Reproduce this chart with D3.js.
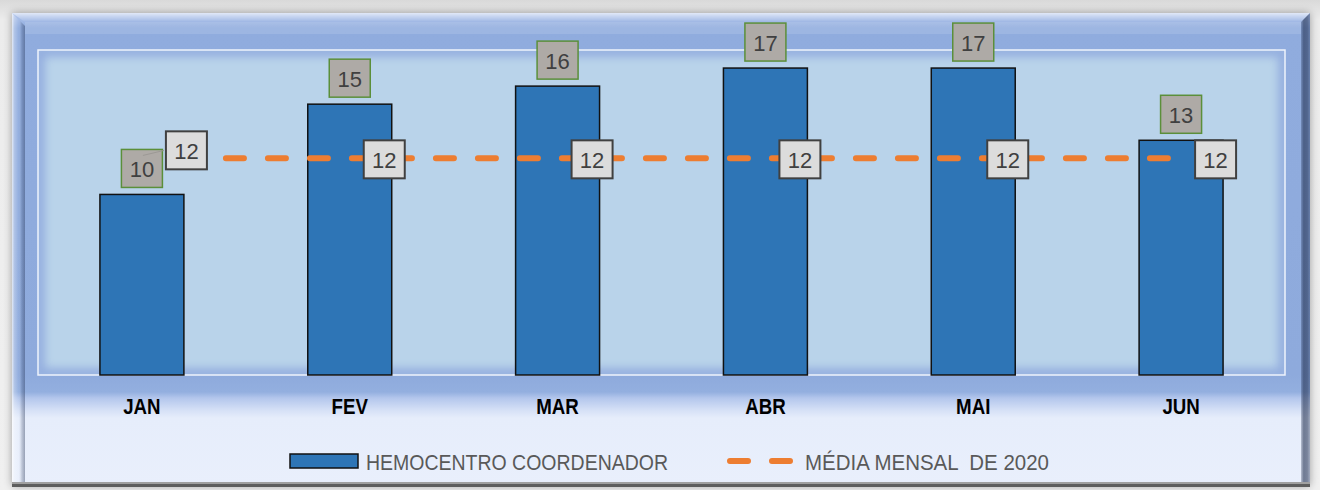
<!DOCTYPE html>
<html><head><meta charset="utf-8">
<script src="https://cdn.jsdelivr.net/npm/d3@7"></script>
<style>body{margin:0;background:#efefef;} svg{display:block}</style>
</head><body><svg id="c" width="1320" height="490"></svg>
<script>
// ---- data ----
const months = ["JAN","FEV","MAR","ABR","MAI","JUN"];
const hemocentro = [10,15,16,17,17,13];
const mediaMensal = [12,12,12,12,12,12];
const seriesNames = ["HEMOCENTRO COORDENADOR","MÉDIA MENSAL  DE 2020"];
const yDomain = [0,18];

// ---- layout ----
const W = 1320, H = 490;
const frame = {x0:12, y0:13, x1:1310, y1:486};
const plot = {x0:38, y0:50, x1:1285, y1:375};
const FONT = "'Liberation Sans Narrow','Liberation Sans',Arial,sans-serif";

const svg = d3.select("#c");
const defs = svg.append("defs");

const x = d3.scaleBand().domain(months).range([plot.x0, plot.x1]).paddingInner(0.596).paddingOuter(0.298);
const y = d3.scaleLinear().domain(yDomain).range([plot.y1, plot.y0]);

// page background
const bgG = defs.append("linearGradient").attr("id","bgG").attr("x1",0).attr("y1",0).attr("x2",0).attr("y2",1);
bgG.append("stop").attr("offset",0).attr("stop-color","#d9d9d9");
bgG.append("stop").attr("offset",0.04).attr("stop-color","#ececec");
bgG.append("stop").attr("offset",1).attr("stop-color","#f0f0f0");
svg.append("rect").attr("width",W).attr("height",H).attr("fill","url(#bgG)");

// shadow filter
const sh = defs.append("filter").attr("id","sh").attr("x","-5%").attr("y","-5%").attr("width","110%").attr("height","110%");
sh.append("feGaussianBlur").attr("in","SourceAlpha").attr("stdDeviation",4);
sh.append("feOffset").attr("dx",0).attr("dy",0).attr("result","b");
sh.append("feComponentTransfer").append("feFuncA").attr("type","linear").attr("slope",0.35);
const shm = sh.append("feMerge"); shm.append("feMergeNode"); shm.append("feMergeNode").attr("in","SourceGraphic");

// frame fill gradient
const fy = v => (v - frame.y0)/(frame.y1-frame.y0);
const fg = defs.append("linearGradient").attr("id","fg").attr("x1",0).attr("y1",0).attr("x2",0).attr("y2",1);
[[13,"#b3c6ec"],[28,"#90acde"],[375,"#8eaadc"],[392,"#93afdf"],[398,"#b3c6ec"],[410,"#d5e0f6"],[418,"#e6edfb"],[486,"#e9effc"]]
  .forEach(([v,c])=>fg.append("stop").attr("offset",fy(v)).attr("stop-color",c));
svg.append("rect").attr("x",frame.x0).attr("y",frame.y0).attr("width",frame.x1-frame.x0).attr("height",frame.y1-frame.y0)
  .attr("fill","url(#fg)").attr("filter","url(#sh)");

// top bevel highlight
const tb = defs.append("linearGradient").attr("id","tb").attr("x1",0).attr("y1",0).attr("x2",0).attr("y2",1);
tb.append("stop").attr("offset",0).attr("stop-color","#fff").attr("stop-opacity",0.6);
tb.append("stop").attr("offset",0.35).attr("stop-color","#fff").attr("stop-opacity",0.35);
tb.append("stop").attr("offset",1).attr("stop-color","#fff").attr("stop-opacity",0);
svg.append("path").attr("d",`M${frame.x0},${frame.y0}H${frame.x1}L${frame.x1-9},${frame.y0+9}H${frame.x0+13}Z`).attr("fill","url(#tb)");
svg.append("rect").attr("x",frame.x0+13).attr("y",frame.y0+9).attr("width",frame.x1-frame.x0-22).attr("height",12).attr("fill","#fff").attr("opacity",0.12);

// left bevel
const lb = defs.append("linearGradient").attr("id","lb").attr("x1",0).attr("y1",0).attr("x2",1).attr("y2",0);
[[0,"#fff",0.75],[0.18,"#fff",0.3],[0.5,"#fff",0.05],[0.75,"#1f2d4d",0.2],[1,"#1f2d4d",0.4]]
  .forEach(([o,c,a])=>lb.append("stop").attr("offset",o).attr("stop-color",c).attr("stop-opacity",a));
svg.append("path").attr("d",`M${frame.x0},${frame.y0}L${frame.x0+13},${frame.y0+13}V${frame.y1-3}H${frame.x0}Z`).attr("fill","url(#lb)");

// right bevel
const rb = defs.append("linearGradient").attr("id","rb").attr("x1",0).attr("y1",0).attr("x2",1).attr("y2",0);
[[0,"#1f2d4d",0.25],[0.3,"#1f2d4d",0.6],[0.7,"#1f2d4d",0.55],[1,"#1f2d4d",0.35]]
  .forEach(([o,c,a])=>rb.append("stop").attr("offset",o).attr("stop-color",c).attr("stop-opacity",a));
svg.append("path").attr("d",`M${frame.x1},${frame.y0}L${frame.x1-9},${frame.y0+9}V${frame.y1}H${frame.x1}Z`).attr("fill","url(#rb)");

// bottom edge
svg.append("rect").attr("x",frame.x0).attr("y",frame.y1-4).attr("width",frame.x1-frame.x0).attr("height",2).attr("fill","#a0a0a0");
svg.append("rect").attr("x",frame.x0).attr("y",frame.y1-2).attr("width",frame.x1-frame.x0).attr("height",3).attr("fill","#5e5e5e");

// plot area
defs.append("clipPath").attr("id","pc").append("rect").attr("x",plot.x0).attr("y",plot.y0).attr("width",plot.x1-plot.x0).attr("height",plot.y1-plot.y0);
const blur = defs.append("filter").attr("id","bl").attr("x","-10%").attr("y","-10%").attr("width","120%").attr("height","120%");
blur.append("feGaussianBlur").attr("stdDeviation",4);
svg.append("rect").attr("x",plot.x0).attr("y",plot.y0).attr("width",plot.x1-plot.x0).attr("height",plot.y1-plot.y0).attr("fill","#b9d3ea");
svg.append("g").attr("clip-path","url(#pc)").append("rect")
  .attr("x",plot.x0+1).attr("y",plot.y0+1).attr("width",plot.x1-plot.x0-2).attr("height",plot.y1-plot.y0-2)
  .attr("fill","none").attr("stroke","#94afdf").attr("stroke-width",12).attr("filter","url(#bl)");
svg.append("rect").attr("x",plot.x0).attr("y",plot.y0).attr("width",plot.x1-plot.x0).attr("height",plot.y1-plot.y0)
  .attr("fill","none").attr("stroke","#eef3fc").attr("stroke-width",1.5);

// bars
svg.append("g").selectAll("rect").data(hemocentro).join("rect")
  .attr("x",(d,i)=>x(months[i])).attr("y",d=>y(d))
  .attr("width",x.bandwidth()).attr("height",d=>y(0)-y(d))
  .attr("fill","#2e75b6").attr("stroke","#111").attr("stroke-width",1.5);

// mean line
const cx = m => x(m)+x.bandwidth()/2;
const line = d3.line().x((d,i)=>cx(months[i])).y(d=>y(d));
svg.append("path").datum(mediaMensal).attr("d",line)
  .attr("fill","none").attr("stroke","#ed7d31").attr("stroke-width",6)
  .attr("stroke-linecap","round").attr("stroke-dasharray","18 24");

// value labels (bars)
const BW = 41, BH = 38;
const vl = svg.append("g").selectAll("g").data(hemocentro).join("g")
  .attr("transform",(d,i)=>`translate(${cx(months[i])-BW/2},${y(d)-7-BH})`);
vl.append("rect").attr("width",BW).attr("height",BH).attr("fill","#aeaaa6").attr("stroke","#5b8f3a").attr("stroke-width",1.5);
// leader line for nudged JAN label
svg.append("line").attr("x1",cx(months[0])+1).attr("y1",y(hemocentro[0])-7-BH+6)
  .attr("x2",cx(months[0])+22).attr("y2",y(hemocentro[0])-7-BH+1).attr("stroke","#9c9995").attr("stroke-width",1);
vl.append("text").attr("x",BW/2).attr("y",BH/2+1).attr("text-anchor","middle").attr("dominant-baseline","central")
  .attr("font-family",FONT).attr("font-size",22).attr("fill","#404040").text(d=>d);

// mean labels
const nudge = months.map((m,i)=> i===0 ? {dx:24, dy:-9} : {dx:14, dy:0});
const ml = svg.append("g").selectAll("g").data(mediaMensal).join("g")
  .attr("transform",(d,i)=>`translate(${cx(months[i])+nudge[i].dx},${y(d)-BH/2+1+nudge[i].dy})`);
ml.append("rect").attr("width",BW).attr("height",BH).attr("fill","#dcdcdc").attr("stroke","#404040").attr("stroke-width",2);
ml.append("text").attr("x",BW/2).attr("y",BH/2+1).attr("text-anchor","middle").attr("dominant-baseline","central")
  .attr("font-family",FONT).attr("font-size",22).attr("fill","#404040").text(d=>d);

// x axis labels
const xa = svg.append("g").attr("transform",`translate(0,${plot.y1})`).call(d3.axisBottom(x).tickSize(0).tickPadding(0));
xa.select(".domain").remove();
xa.selectAll("text").attr("y",0).attr("dy",0).attr("dominant-baseline","central")
  .attr("transform","translate(0,31) scale(0.85,1)")
  .attr("font-family",FONT).attr("font-size",22).attr("font-weight","bold").attr("fill","#000");

// legend
const lg = svg.append("g");
const LY = 461;
lg.append("rect").attr("x",290).attr("y",LY-7).attr("width",68).attr("height",14).attr("fill","#2e75b6").attr("stroke","#111").attr("stroke-width",1.5);
lg.append("text").attr("x",366).attr("y",LY+1).attr("dominant-baseline","central").attr("font-family",FONT).attr("font-size",22)
  .attr("fill","#595959").attr("textLength",302).attr("lengthAdjust","spacingAndGlyphs").text(seriesNames[0]);
lg.append("line").attr("x1",730).attr("x2",790).attr("y1",LY).attr("y2",LY).attr("stroke","#ed7d31").attr("stroke-width",6)
  .attr("stroke-linecap","round").attr("stroke-dasharray","18 24");
lg.append("text").attr("x",805).attr("y",LY+1).attr("dominant-baseline","central").attr("font-family",FONT).attr("font-size",22)
  .attr("fill","#595959").style("white-space","pre").attr("textLength",244).attr("lengthAdjust","spacingAndGlyphs").text(seriesNames[1]);
</script></body></html>
